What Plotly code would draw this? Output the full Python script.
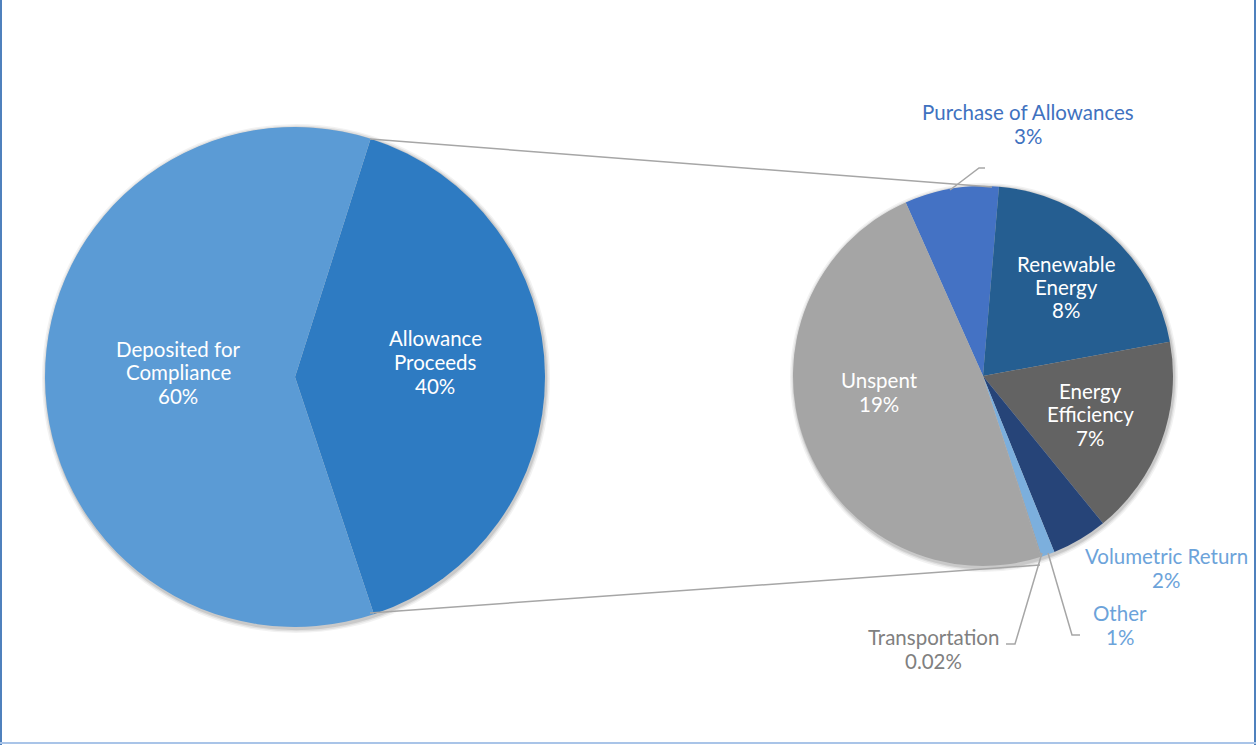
import plotly.graph_objects as go

W, H = 1259, 745

# ---- data ----
outer_labels = ["Allowance<br>Proceeds", "Deposited for<br>Compliance"]
outer_values = [40, 60]
outer_pct = ["40%", "60%"]
outer_colors = ["#2E7BC2", "#5B9BD5"]

inner_labels = ["Purchase of Allowances", "Renewable<br>Energy", "Energy<br>Efficiency",
                "Volumetric Return", "Other", "Transportation", "Unspent"]
inner_values = [3.2, 8.3, 6.8, 1.9, 0.45, 0.02, 19.3]
inner_pct = ["3%", "8%", "7%", "2%", "1%", "0.02%", "19%"]
inner_colors = ["#4472C4", "#255E91", "#636363", "#264478", "#7CAFDD", "#8C8C8C", "#A5A5A5"]


def px(x):
    return x / W


def py(y):
    return 1 - y / H


FONT = "Lato, 'Open Sans', sans-serif"

fig = go.Figure()

# left pie: center (295,377) r=250
fig.add_trace(go.Pie(
    labels=outer_labels, values=outer_values, sort=False, direction="clockwise",
    rotation=17.6, textinfo="none", hoverinfo="label+percent",
    marker=dict(colors=outer_colors, line=dict(width=0)),
    domain=dict(x=[px(45), px(545)], y=[py(627), py(127)]),
    showlegend=False,
))

# right pie: center (983,376) r=190
fig.add_trace(go.Pie(
    labels=inner_labels, values=inner_values, sort=False, direction="clockwise",
    rotation=-24, textinfo="none", hoverinfo="label+value",
    marker=dict(colors=inner_colors, line=dict(width=0)),
    domain=dict(x=[px(793), px(1173)], y=[py(566), py(186)]),
    showlegend=False,
))

shapes = []
# soft shadows
for cx, cy, r in [(295, 377, 250), (983, 376, 190)]:
    for k, a in [(4, 0.05), (2.5, 0.07), (1.2, 0.10)]:
        shapes.append(dict(type="circle", xref="paper", yref="paper", layer="below",
                           x0=px(cx - r - k + 1), x1=px(cx + r + k + 1),
                           y0=py(cy + r + k + 2), y1=py(cy - r - k + 1),
                           fillcolor=f"rgba(0,0,0,{a})", line=dict(width=0)))

line_gray = dict(color="#A6A6A6", width=1.5)
# connector lines between pies
shapes.append(dict(type="line", xref="paper", yref="paper", x0=px(370), y0=py(139),
                   x1=px(992), y1=py(187), line=line_gray))
shapes.append(dict(type="line", xref="paper", yref="paper", x0=px(370), y0=py(613),
                   x1=px(1040), y1=py(565), line=line_gray))
# leader lines
for pts in [[(950, 190), (979, 168), (985, 168)],
            [(1048, 553), (1072, 635), (1080, 635)],
            [(1042, 553), (1015, 644), (1006, 644)]]:
    path = "M " + " L ".join(f"{px(x)},{py(y)}" for x, y in pts)
    shapes.append(dict(type="path", xref="paper", yref="paper", path=path, line=line_gray))

# frame
border = "#4F81BD"
shapes.append(dict(type="line", xref="paper", yref="paper", x0=px(1), x1=px(1), y0=py(745), y1=py(0),
                   line=dict(color=border, width=2)))
shapes.append(dict(type="line", xref="paper", yref="paper", x0=px(1255), x1=px(1255), y0=py(745), y1=py(0),
                   line=dict(color=border, width=2)))
shapes.append(dict(type="line", xref="paper", yref="paper", x0=px(0), x1=px(1256), y0=py(743), y1=py(743),
                   line=dict(color="#A9C4E8", width=2)))

annotations = []
LINE_H = 23.5


def lab(text, x, y, color, size=20.5):
    lines = text.split("<br>")
    n = len(lines)
    for i, ln in enumerate(lines):
        yy = y + (i - (n - 1) / 2) * LINE_H
        annotations.append(dict(text=ln, x=px(x), y=py(yy), xref="paper", yref="paper",
                                showarrow=False, xanchor="center", yanchor="middle",
                                font=dict(family=FONT, size=size, color=color), align="center"))


lab(f"{outer_labels[1]}<br>{outer_pct[1]}", 178, 372, "white")
lab(f"{outer_labels[0]}<br>{outer_pct[0]}", 435, 362, "white")
lab(f"{inner_labels[1]}<br>{inner_pct[1]}", 1066, 287, "white")
lab(f"{inner_labels[2]}<br>{inner_pct[2]}", 1090, 414, "white")
lab(f"{inner_labels[6]}<br>{inner_pct[6]}", 879, 392, "white")
lab(f"{inner_labels[0]}<br>{inner_pct[0]}", 1028, 124, "#3F72BF")
lab(f"{inner_labels[3]}<br>{inner_pct[3]}", 1166, 568, "#6CA3DA")
lab(f"{inner_labels[4]}<br>{inner_pct[4]}", 1120, 625, "#6CA3DA")
lab(f"{inner_labels[5]}<br>{inner_pct[5]}", 933, 649, "#808080")

fig.update_layout(
    width=W, height=H, margin=dict(l=0, r=0, t=0, b=0),
    paper_bgcolor="white", plot_bgcolor="white",
    shapes=shapes, annotations=annotations,
    font=dict(family=FONT),
)

fig.write_html("out.html", config={"displayModeBar": False})

# remove default page margin so the figure sits at the window's top-left corner
with open("out.html", "r", encoding="utf-8") as f:
    html = f.read()
html = html.replace("<head>", "<head><style>html,body{margin:0;padding:0;overflow:hidden;}</style>", 1)
with open("out.html", "w", encoding="utf-8") as f:
    f.write(html)
